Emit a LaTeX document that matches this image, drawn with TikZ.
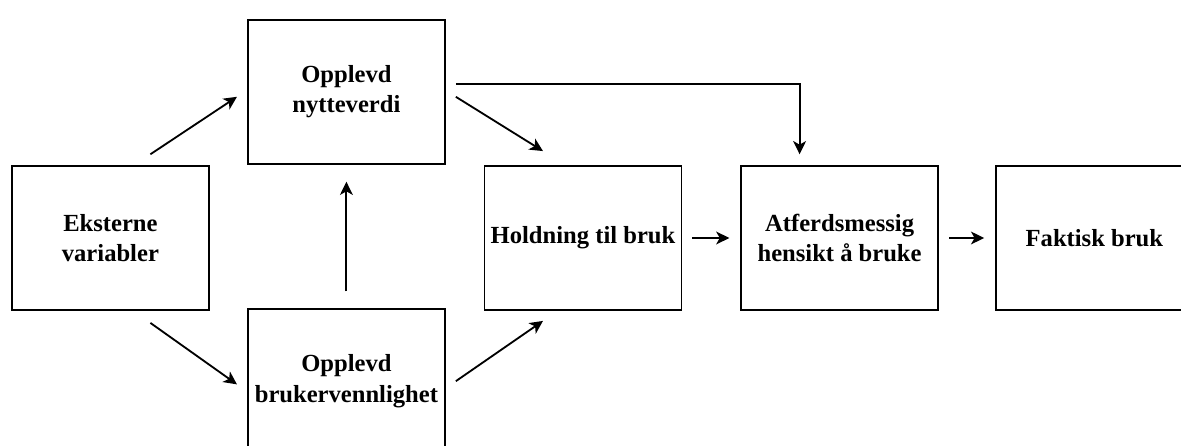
\documentclass[tikz,border=0pt]{standalone}
\usepackage{fontspec}
\setmainfont{Liberation Serif}
\usepackage{tikz}
\usetikzlibrary{arrows.meta,positioning}
\tikzset{
  blk/.style ={draw, rectangle, minimum width=4.925cm, minimum height=3.6cm,
               inner sep=2pt, align=center, line width=1.3pt,
               font=\fontsize{17.5}{21.5}\selectfont\bfseries},
  arr/.style ={-{Stealth[length=0.33cm, width=0.32cm, inset=0.09cm]},
               line width=1.3pt},
}

\begin{document}
\begin{tikzpicture}
  \useasboundingbox (0,0) rectangle (29.525,11.15);
  % boxes
  \node[blk] (eks)  at (2.76,5.2)  {Eksterne\\variabler};
  \node[blk] (nyt)  at (8.66,8.85) {Opplevd\\nytteverdi};
  \node[blk] (bvl)  at (8.66,1.62) {Opplevd\\brukervennlighet};
  \node[blk] (hold) at (14.575,5.2) {Holdning til bruk};
  \node[blk] (atf)  at (20.99,5.2) {Atferdsmessig\\hensikt å bruke};
  \node[blk] (fak)  at (27.36,5.2) {Faktisk bruk};
  % connectors
  \draw[arr] ([shift={(1,0.27)}]eks.north) -- ([shift={(-0.25,-0.12)}]nyt.west);
  \draw[arr] ([shift={(1,-0.3)}]eks.south) -- ([shift={(-0.25,-0.08)}]bvl.west);
  \draw[arr] ([yshift=0.42cm]bvl.north) -- ([yshift=-0.42cm]nyt.south);
  \draw[arr] ([shift={(0.25,-0.12)}]nyt.east) -- ([shift={(-1,0.35)}]hold.north);
  \draw[arr] ([xshift=0.25cm]bvl.east) -- ([shift={(-1,-0.25)}]hold.south);
  \draw[arr] ([shift={(0.25,0.2)}]nyt.east) -| ([shift={(-1,0.27)}]atf.north);
  \draw[arr, shorten <=0.25cm, shorten >=0.27cm] (hold.east) -- (atf.west);
  \draw[arr, shorten <=0.25cm, shorten >=0.27cm] (atf.east) -- (fak.west);
\end{tikzpicture}
\end{document}
